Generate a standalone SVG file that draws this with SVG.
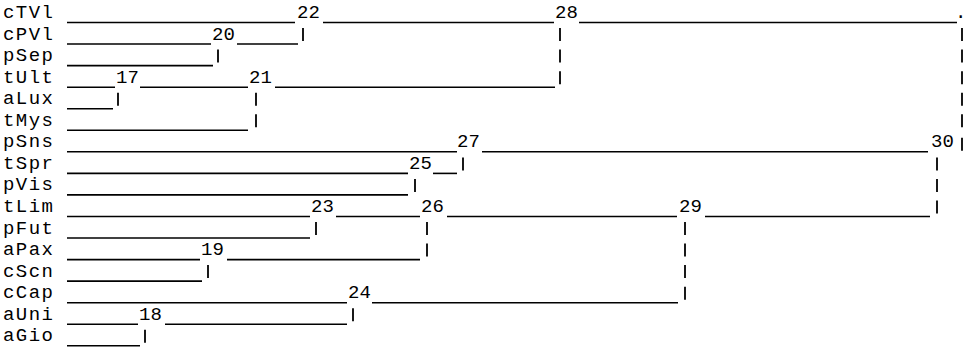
<svg xmlns="http://www.w3.org/2000/svg" width="973" height="349" viewBox="0 0 973 349">
<style>
text{font-family:"Liberation Mono","DejaVu Sans Mono",monospace;font-size:19px;fill:#000}
.lb{}
.c line{stroke:#000;stroke-width:1.6}
.c .b{stroke-width:1.8}
</style>
<rect width="973" height="349" fill="#fff"/>
<g id="leaves">
<g id="cTVl"><text x="3" y="18" textLength="50">cTVl</text></g>
<g id="cPVl"><text x="3" y="39.5" textLength="50">cPVl</text></g>
<g id="pSep"><text x="3" y="61" textLength="50">pSep</text></g>
<g id="tUlt"><text x="3" y="82.6" textLength="50">tUlt</text></g>
<g id="aLux"><text x="3" y="104.2" textLength="50">aLux</text></g>
<g id="tMys"><text x="3" y="125.7" textLength="50">tMys</text></g>
<g id="pSns"><text x="3" y="147.3" textLength="50">pSns</text></g>
<g id="tSpr"><text x="3" y="168.8" textLength="50">tSpr</text></g>
<g id="pVis"><text x="3" y="190.4" textLength="50">pVis</text></g>
<g id="tLim"><text x="3" y="211.9" textLength="50">tLim</text></g>
<g id="pFut"><text x="3" y="233.5" textLength="50">pFut</text></g>
<g id="aPax"><text x="3" y="255" textLength="50">aPax</text></g>
<g id="cScn"><text x="3" y="276.6" textLength="50">cScn</text></g>
<g id="cCap"><text x="3" y="298.1" textLength="50">cCap</text></g>
<g id="aUni"><text x="3" y="319.7" textLength="50">aUni</text></g>
<g id="aGio"><text x="3" y="341.2" textLength="50">aGio</text></g>
</g>
<g id="clusters">
<g id="n17"><text x="116" y="82.6" textLength="23">17</text></g>
<g id="n18"><text x="139" y="319.7" textLength="23">18</text></g>
<g id="n19"><text x="201" y="255" textLength="23">19</text></g>
<g id="n20"><text x="212" y="39.5" textLength="23">20</text></g>
<g id="n21"><text x="249" y="82.6" textLength="23">21</text></g>
<g id="n22"><text x="297" y="18" textLength="23">22</text></g>
<g id="n23"><text x="311" y="211.9" textLength="23">23</text></g>
<g id="n24"><text x="348" y="298.1" textLength="23">24</text></g>
<g id="n25"><text x="409" y="168.8" textLength="23">25</text></g>
<g id="n26"><text x="421" y="211.9" textLength="23">26</text></g>
<g id="n27"><text x="457" y="147.3" textLength="23">27</text></g>
<g id="n28"><text x="555" y="18" textLength="23">28</text></g>
<g id="n29"><text x="679" y="211.9" textLength="23">29</text></g>
<g id="n30"><text x="931" y="147.3" textLength="23">30</text></g>
<g id="root"><text x="955" y="18">.</text></g>
</g>
<g id="connectors" class="c">
<!-- row 0 -->
<line x1="67" y1="22.5" x2="295" y2="22.5"/>
<line x1="323" y1="22.5" x2="554" y2="22.5"/>
<line x1="579" y1="22.5" x2="957" y2="22.5"/>
<!-- row 1 -->
<line x1="67" y1="44" x2="211" y2="44"/>
<line x1="237" y1="44" x2="298" y2="44"/>
<line class="b" x1="303" y1="28" x2="303" y2="41"/>
<line class="b" x1="560" y1="28" x2="560" y2="41"/>
<line class="b" x1="962" y1="28" x2="962" y2="41"/>
<!-- row 2 -->
<line x1="67" y1="65.6" x2="213" y2="65.6"/>
<line class="b" x1="218" y1="49.6" x2="218" y2="62.6"/>
<line class="b" x1="560" y1="49.6" x2="560" y2="62.6"/>
<line class="b" x1="962" y1="49.6" x2="962" y2="62.6"/>
<!-- row 3 -->
<line x1="67" y1="87.2" x2="115" y2="87.2"/>
<line x1="140" y1="87.2" x2="248" y2="87.2"/>
<line x1="275" y1="87.2" x2="555" y2="87.2"/>
<line class="b" x1="560" y1="71.2" x2="560" y2="84.2"/>
<line class="b" x1="962" y1="71.2" x2="962" y2="84.2"/>
<!-- row 4 -->
<line x1="67" y1="108.7" x2="113" y2="108.7"/>
<line class="b" x1="118" y1="92.7" x2="118" y2="105.7"/>
<line class="b" x1="256" y1="92.7" x2="256" y2="105.7"/>
<line class="b" x1="962" y1="92.7" x2="962" y2="105.7"/>
<!-- row 5 -->
<line x1="67" y1="130.3" x2="248" y2="130.3"/>
<line class="b" x1="256" y1="114.3" x2="256" y2="127.3"/>
<line class="b" x1="962" y1="114.3" x2="962" y2="127.3"/>
<!-- row 6 -->
<line x1="67" y1="151.8" x2="457" y2="151.8"/>
<line x1="482" y1="151.8" x2="928" y2="151.8"/>
<line class="b" x1="962" y1="137.8" x2="962" y2="150.8"/>
<!-- row 7 -->
<line x1="67" y1="173.4" x2="408" y2="173.4"/>
<line x1="433" y1="173.4" x2="457" y2="173.4"/>
<line class="b" x1="463" y1="157.4" x2="463" y2="170.4"/>
<line class="b" x1="937" y1="157.4" x2="937" y2="170.4"/>
<!-- row 8 -->
<line x1="67" y1="194.9" x2="408" y2="194.9"/>
<line class="b" x1="415" y1="178.9" x2="415" y2="191.9"/>
<line class="b" x1="937" y1="178.9" x2="937" y2="191.9"/>
<!-- row 9 -->
<line x1="67" y1="216.5" x2="310" y2="216.5"/>
<line x1="336" y1="216.5" x2="420" y2="216.5"/>
<line x1="447" y1="216.5" x2="677" y2="216.5"/>
<line x1="705" y1="216.5" x2="930" y2="216.5"/>
<line class="b" x1="937" y1="200.5" x2="937" y2="213.5"/>
<!-- row 10 -->
<line x1="67" y1="238" x2="310" y2="238"/>
<line class="b" x1="316" y1="222" x2="316" y2="235"/>
<line class="b" x1="427" y1="222" x2="427" y2="235"/>
<line class="b" x1="685" y1="222" x2="685" y2="235"/>
<!-- row 11 -->
<line x1="67" y1="259.6" x2="200" y2="259.6"/>
<line x1="227" y1="259.6" x2="420" y2="259.6"/>
<line class="b" x1="427" y1="243.6" x2="427" y2="256.6"/>
<line class="b" x1="685" y1="243.6" x2="685" y2="256.6"/>
<!-- row 12 -->
<line x1="67" y1="281.1" x2="202" y2="281.1"/>
<line class="b" x1="208" y1="265.1" x2="208" y2="278.1"/>
<line class="b" x1="685" y1="265.1" x2="685" y2="278.1"/>
<!-- row 13 -->
<line x1="67" y1="302.7" x2="347" y2="302.7"/>
<line x1="372" y1="302.7" x2="678" y2="302.7"/>
<line class="b" x1="685" y1="286.7" x2="685" y2="299.7"/>
<!-- row 14 -->
<line x1="67" y1="324.2" x2="138" y2="324.2"/>
<line x1="165" y1="324.2" x2="347" y2="324.2"/>
<line class="b" x1="353" y1="308.2" x2="353" y2="321.2"/>
<!-- row 15 -->
<line x1="67" y1="345.8" x2="140" y2="345.8"/>
<line class="b" x1="145" y1="329.8" x2="145" y2="342.8"/>
</g>
</svg>
